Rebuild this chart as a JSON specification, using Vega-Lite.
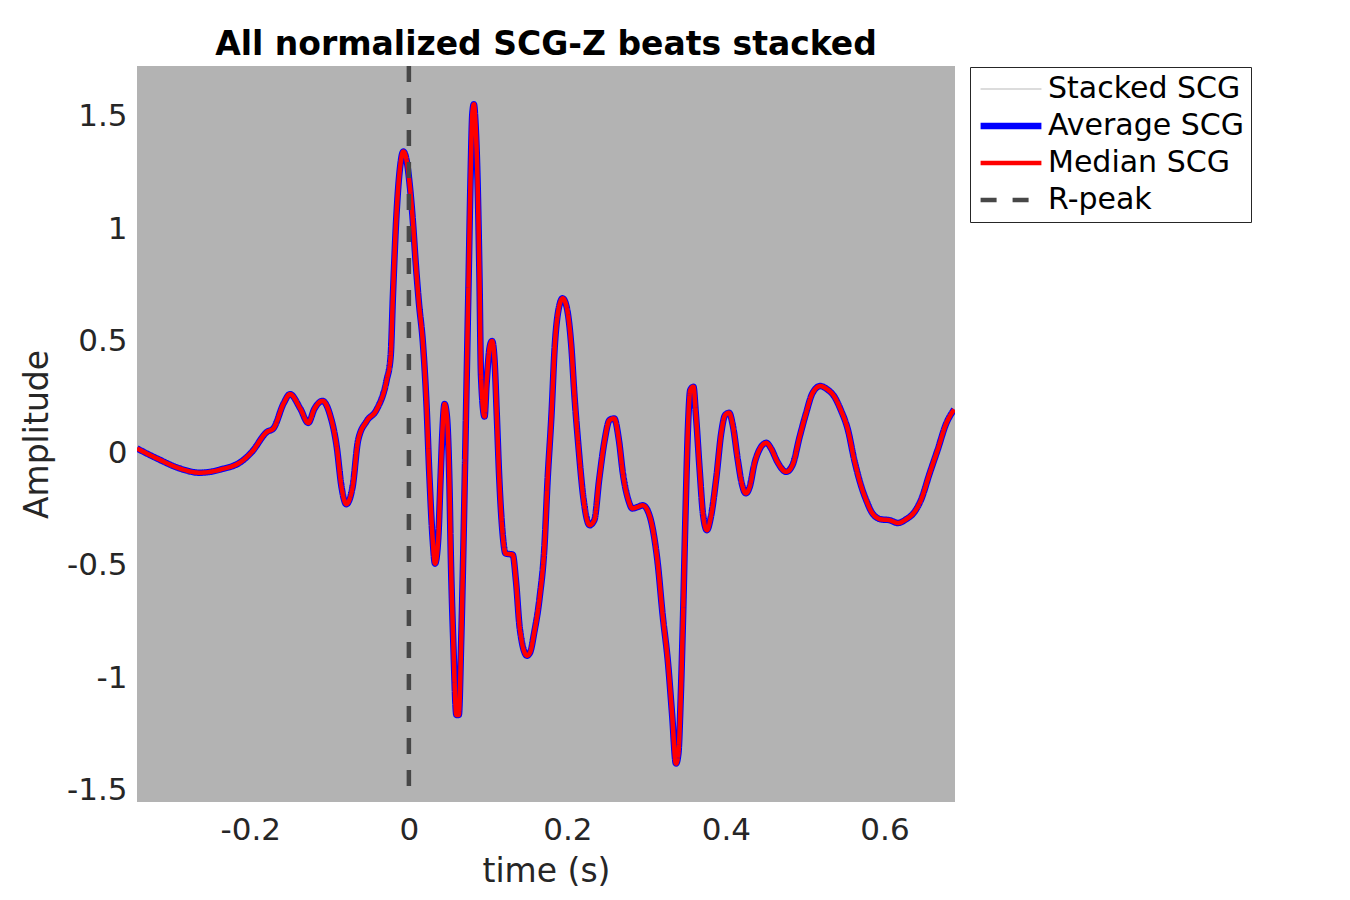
{
  "$schema": "https://vega.github.io/schema/vega-lite/v6.json",
  "width": 818,
  "height": 736,
  "autosize": {"type": "none"},
  "padding": {"left": 137, "top": 66, "right": 395, "bottom": 98},
  "background": "white",
  "title": {
    "text": "All normalized SCG-Z beats stacked",
    "font": "DejaVu Sans",
    "fontSize": 33,
    "fontWeight": "bold",
    "color": "#000000",
    "anchor": "middle",
    "offset": 2
  },
  "config": {
    "view": {"fill": "#b3b3b3", "stroke": null},
    "font": "DejaVu Sans",
    "axis": {
      "domain": false,
      "ticks": false,
      "grid": false,
      "labelFont": "DejaVu Sans",
      "labelFontSize": 31,
      "labelColor": "#262626",
      "titleFont": "DejaVu Sans",
      "titleFontSize": 33,
      "titleFontWeight": "normal",
      "titleColor": "#262626"
    },
    "legend": {
      "title": null,
      "orient": "none",
      "legendX": 833,
      "legendY": 1,
      "strokeColor": "#262626",
      "fillColor": "#ffffff",
      "padding": 7,
      "symbolType": "stroke",
      "symbolSize": 3700,
      "labelFont": "DejaVu Sans",
      "labelFontSize": 30,
      "labelColor": "#000000",
      "labelLimit": 0,
      "labelOffset": 3,
      "clipHeight": 30,
      "rowPadding": 7
    }
  },
  "data": {
    "values": [
      {"t": -0.343, "Average SCG": 0.023, "Median SCG": 0.023},
      {"t": -0.318, "Average SCG": -0.021, "Median SCG": -0.021},
      {"t": -0.289, "Average SCG": -0.066, "Median SCG": -0.066},
      {"t": -0.264, "Average SCG": -0.085, "Median SCG": -0.085},
      {"t": -0.238, "Average SCG": -0.071, "Median SCG": -0.071},
      {"t": -0.209, "Average SCG": -0.029, "Median SCG": -0.029},
      {"t": -0.198, "Average SCG": 0.008, "Median SCG": 0.008},
      {"t": -0.179, "Average SCG": 0.097, "Median SCG": 0.097},
      {"t": -0.171, "Average SCG": 0.112, "Median SCG": 0.112},
      {"t": -0.158, "Average SCG": 0.224, "Median SCG": 0.224},
      {"t": -0.150, "Average SCG": 0.265, "Median SCG": 0.265},
      {"t": -0.137, "Average SCG": 0.201, "Median SCG": 0.201},
      {"t": -0.127, "Average SCG": 0.137, "Median SCG": 0.137},
      {"t": -0.119, "Average SCG": 0.201, "Median SCG": 0.201},
      {"t": -0.109, "Average SCG": 0.235, "Median SCG": 0.235},
      {"t": -0.100, "Average SCG": 0.179, "Median SCG": 0.179},
      {"t": -0.091, "Average SCG": 0.030, "Median SCG": 0.030},
      {"t": -0.085, "Average SCG": -0.148, "Median SCG": -0.148},
      {"t": -0.079, "Average SCG": -0.225, "Median SCG": -0.225},
      {"t": -0.071, "Average SCG": -0.148, "Median SCG": -0.148},
      {"t": -0.064, "Average SCG": 0.060, "Median SCG": 0.060},
      {"t": -0.053, "Average SCG": 0.146, "Median SCG": 0.146},
      {"t": -0.041, "Average SCG": 0.194, "Median SCG": 0.194},
      {"t": -0.028, "Average SCG": 0.328, "Median SCG": 0.328},
      {"t": -0.023, "Average SCG": 0.432, "Median SCG": 0.432},
      {"t": -0.020, "Average SCG": 0.714, "Median SCG": 0.714},
      {"t": -0.016, "Average SCG": 1.041, "Median SCG": 1.041},
      {"t": -0.011, "Average SCG": 1.279, "Median SCG": 1.279},
      {"t": -0.007, "Average SCG": 1.346, "Median SCG": 1.346},
      {"t": -0.003, "Average SCG": 1.309, "Median SCG": 1.309},
      {"t": 0.001, "Average SCG": 1.200, "Median SCG": 1.200},
      {"t": 0.005, "Average SCG": 1.038, "Median SCG": 1.038},
      {"t": 0.0085, "Average SCG": 0.856, "Median SCG": 0.856},
      {"t": 0.0126, "Average SCG": 0.675, "Median SCG": 0.675},
      {"t": 0.0177, "Average SCG": 0.493, "Median SCG": 0.493},
      {"t": 0.022, "Average SCG": 0.238, "Median SCG": 0.238},
      {"t": 0.026, "Average SCG": -0.108, "Median SCG": -0.108},
      {"t": 0.030, "Average SCG": -0.381, "Median SCG": -0.381},
      {"t": 0.033, "Average SCG": -0.490, "Median SCG": -0.490},
      {"t": 0.037, "Average SCG": -0.381, "Median SCG": -0.381},
      {"t": 0.040, "Average SCG": -0.108, "Median SCG": -0.108},
      {"t": 0.042, "Average SCG": 0.074, "Median SCG": 0.074},
      {"t": 0.045, "Average SCG": 0.221, "Median SCG": 0.221},
      {"t": 0.048, "Average SCG": 0.165, "Median SCG": 0.165},
      {"t": 0.051, "Average SCG": -0.108, "Median SCG": -0.108},
      {"t": 0.053, "Average SCG": -0.470, "Median SCG": -0.470},
      {"t": 0.056, "Average SCG": -0.836, "Median SCG": -0.836},
      {"t": 0.060, "Average SCG": -1.164, "Median SCG": -1.164},
      {"t": 0.063, "Average SCG": -1.164, "Median SCG": -1.164},
      {"t": 0.066, "Average SCG": -0.836, "Median SCG": -0.836},
      {"t": 0.069, "Average SCG": -0.381, "Median SCG": -0.381},
      {"t": 0.072, "Average SCG": 0.165, "Median SCG": 0.165},
      {"t": 0.075, "Average SCG": 0.711, "Median SCG": 0.711},
      {"t": 0.078, "Average SCG": 1.257, "Median SCG": 1.257},
      {"t": 0.080, "Average SCG": 1.511, "Median SCG": 1.511},
      {"t": 0.082, "Average SCG": 1.557, "Median SCG": 1.557},
      {"t": 0.084, "Average SCG": 1.475, "Median SCG": 1.475},
      {"t": 0.087, "Average SCG": 1.166, "Median SCG": 1.166},
      {"t": 0.089, "Average SCG": 0.802, "Median SCG": 0.802},
      {"t": 0.091, "Average SCG": 0.347, "Median SCG": 0.347},
      {"t": 0.0955, "Average SCG": 0.165, "Median SCG": 0.165},
      {"t": 0.098, "Average SCG": 0.310, "Median SCG": 0.310},
      {"t": 0.102, "Average SCG": 0.475, "Median SCG": 0.475},
      {"t": 0.105, "Average SCG": 0.502, "Median SCG": 0.502},
      {"t": 0.108, "Average SCG": 0.420, "Median SCG": 0.420},
      {"t": 0.111, "Average SCG": 0.165, "Median SCG": 0.165},
      {"t": 0.114, "Average SCG": -0.108, "Median SCG": -0.108},
      {"t": 0.118, "Average SCG": -0.345, "Median SCG": -0.345},
      {"t": 0.122, "Average SCG": -0.445, "Median SCG": -0.445},
      {"t": 0.131, "Average SCG": -0.450, "Median SCG": -0.450},
      {"t": 0.135, "Average SCG": -0.563, "Median SCG": -0.563},
      {"t": 0.140, "Average SCG": -0.781, "Median SCG": -0.781},
      {"t": 0.149, "Average SCG": -0.900, "Median SCG": -0.900},
      {"t": 0.153, "Average SCG": -0.885, "Median SCG": -0.885},
      {"t": 0.158, "Average SCG": -0.800, "Median SCG": -0.800},
      {"t": 0.165, "Average SCG": -0.640, "Median SCG": -0.640},
      {"t": 0.171, "Average SCG": -0.415, "Median SCG": -0.415},
      {"t": 0.175, "Average SCG": -0.118, "Median SCG": -0.118},
      {"t": 0.180, "Average SCG": 0.179, "Median SCG": 0.179},
      {"t": 0.184, "Average SCG": 0.476, "Median SCG": 0.476},
      {"t": 0.188, "Average SCG": 0.625, "Median SCG": 0.625},
      {"t": 0.194, "Average SCG": 0.692, "Median SCG": 0.692},
      {"t": 0.199, "Average SCG": 0.654, "Median SCG": 0.654},
      {"t": 0.205, "Average SCG": 0.476, "Median SCG": 0.476},
      {"t": 0.209, "Average SCG": 0.253, "Median SCG": 0.253},
      {"t": 0.214, "Average SCG": 0.030, "Median SCG": 0.030},
      {"t": 0.220, "Average SCG": -0.193, "Median SCG": -0.193},
      {"t": 0.228, "Average SCG": -0.319, "Median SCG": -0.319},
      {"t": 0.234, "Average SCG": -0.296, "Median SCG": -0.296},
      {"t": 0.240, "Average SCG": -0.118, "Median SCG": -0.118},
      {"t": 0.247, "Average SCG": 0.060, "Median SCG": 0.060},
      {"t": 0.253, "Average SCG": 0.149, "Median SCG": 0.149},
      {"t": 0.259, "Average SCG": 0.157, "Median SCG": 0.157},
      {"t": 0.265, "Average SCG": 0.060, "Median SCG": 0.060},
      {"t": 0.270, "Average SCG": -0.088, "Median SCG": -0.088},
      {"t": 0.277, "Average SCG": -0.207, "Median SCG": -0.207},
      {"t": 0.282, "Average SCG": -0.244, "Median SCG": -0.244},
      {"t": 0.289, "Average SCG": -0.237, "Median SCG": -0.237},
      {"t": 0.295, "Average SCG": -0.230, "Median SCG": -0.230},
      {"t": 0.301, "Average SCG": -0.252, "Median SCG": -0.252},
      {"t": 0.308, "Average SCG": -0.341, "Median SCG": -0.341},
      {"t": 0.314, "Average SCG": -0.490, "Median SCG": -0.490},
      {"t": 0.320, "Average SCG": -0.713, "Median SCG": -0.713},
      {"t": 0.327, "Average SCG": -0.935, "Median SCG": -0.935},
      {"t": 0.332, "Average SCG": -1.158, "Median SCG": -1.158},
      {"t": 0.337, "Average SCG": -1.381, "Median SCG": -1.381},
      {"t": 0.340, "Average SCG": -1.337, "Median SCG": -1.337},
      {"t": 0.343, "Average SCG": -1.084, "Median SCG": -1.084},
      {"t": 0.346, "Average SCG": -0.713, "Median SCG": -0.713},
      {"t": 0.349, "Average SCG": -0.267, "Median SCG": -0.267},
      {"t": 0.352, "Average SCG": 0.105, "Median SCG": 0.105},
      {"t": 0.355, "Average SCG": 0.283, "Median SCG": 0.283},
      {"t": 0.359, "Average SCG": 0.298, "Median SCG": 0.298},
      {"t": 0.362, "Average SCG": 0.179, "Median SCG": 0.179},
      {"t": 0.367, "Average SCG": -0.080, "Median SCG": -0.080},
      {"t": 0.371, "Average SCG": -0.267, "Median SCG": -0.267},
      {"t": 0.376, "Average SCG": -0.341, "Median SCG": -0.341},
      {"t": 0.381, "Average SCG": -0.282, "Median SCG": -0.282},
      {"t": 0.388, "Average SCG": -0.103, "Median SCG": -0.103},
      {"t": 0.394, "Average SCG": 0.090, "Median SCG": 0.090},
      {"t": 0.399, "Average SCG": 0.172, "Median SCG": 0.172},
      {"t": 0.404, "Average SCG": 0.182, "Median SCG": 0.182},
      {"t": 0.409, "Average SCG": 0.120, "Median SCG": 0.120},
      {"t": 0.415, "Average SCG": -0.029, "Median SCG": -0.029},
      {"t": 0.420, "Average SCG": -0.133, "Median SCG": -0.133},
      {"t": 0.425, "Average SCG": -0.177, "Median SCG": -0.177},
      {"t": 0.430, "Average SCG": -0.148, "Median SCG": -0.148},
      {"t": 0.436, "Average SCG": -0.044, "Median SCG": -0.044},
      {"t": 0.442, "Average SCG": 0.016, "Median SCG": 0.016},
      {"t": 0.451, "Average SCG": 0.048, "Median SCG": 0.048},
      {"t": 0.457, "Average SCG": 0.023, "Median SCG": 0.023},
      {"t": 0.465, "Average SCG": -0.037, "Median SCG": -0.037},
      {"t": 0.476, "Average SCG": -0.081, "Median SCG": -0.081},
      {"t": 0.484, "Average SCG": -0.051, "Median SCG": -0.051},
      {"t": 0.493, "Average SCG": 0.075, "Median SCG": 0.075},
      {"t": 0.501, "Average SCG": 0.179, "Median SCG": 0.179},
      {"t": 0.509, "Average SCG": 0.268, "Median SCG": 0.268},
      {"t": 0.519, "Average SCG": 0.301, "Median SCG": 0.301},
      {"t": 0.528, "Average SCG": 0.286, "Median SCG": 0.286},
      {"t": 0.537, "Average SCG": 0.253, "Median SCG": 0.253},
      {"t": 0.545, "Average SCG": 0.194, "Median SCG": 0.194},
      {"t": 0.554, "Average SCG": 0.105, "Median SCG": 0.105},
      {"t": 0.562, "Average SCG": -0.029, "Median SCG": -0.029},
      {"t": 0.571, "Average SCG": -0.148, "Median SCG": -0.148},
      {"t": 0.577, "Average SCG": -0.207, "Median SCG": -0.207},
      {"t": 0.585, "Average SCG": -0.267, "Median SCG": -0.267},
      {"t": 0.596, "Average SCG": -0.293, "Median SCG": -0.293},
      {"t": 0.606, "Average SCG": -0.296, "Median SCG": -0.296},
      {"t": 0.617, "Average SCG": -0.309, "Median SCG": -0.309},
      {"t": 0.627, "Average SCG": -0.293, "Median SCG": -0.293},
      {"t": 0.638, "Average SCG": -0.259, "Median SCG": -0.259},
      {"t": 0.646, "Average SCG": -0.207, "Median SCG": -0.207},
      {"t": 0.657, "Average SCG": -0.088, "Median SCG": -0.088},
      {"t": 0.667, "Average SCG": 0.016, "Median SCG": 0.016},
      {"t": 0.678, "Average SCG": 0.135, "Median SCG": 0.135},
      {"t": 0.688, "Average SCG": 0.197, "Median SCG": 0.197}
    ]
  },
  "encoding": {
    "x": {
      "field": "t",
      "type": "quantitative",
      "title": "time (s)",
      "scale": {"domain": [-0.343, 0.689], "nice": false, "zero": false},
      "axis": {
        "values": [-0.2, 0, 0.2, 0.4, 0.6],
        "labelExpr": "'' + datum.value",
        "labelPadding": 13,
        "titlePadding": 10
      }
    },
    "color": {
      "field": "series",
      "type": "nominal",
      "scale": {
        "domain": ["Stacked SCG", "Average SCG", "Median SCG", "R-peak"],
        "range": ["#b0b0b0", "#0000ff", "#ff0000", "#474747"]
      }
    },
    "strokeWidth": {
      "field": "series",
      "type": "nominal",
      "scale": {
        "type": "ordinal",
        "domain": ["Stacked SCG", "Average SCG", "Median SCG", "R-peak"],
        "range": [1, 6.5, 4.5, 4.5]
      }
    },
    "strokeDash": {
      "field": "series",
      "type": "nominal",
      "scale": {
        "domain": ["Stacked SCG", "Average SCG", "Median SCG", "R-peak"],
        "range": [[1, 0], [1, 0], [1, 0], [16, 16]]
      }
    }
  },
  "layer": [
    {
      "transform": [
        {"fold": ["Average SCG", "Median SCG"], "as": ["series", "amp"]},
        {"filter": "datum.series == 'Average SCG'"}
      ],
      "mark": {"type": "line", "interpolate": "monotone", "clip": true},
      "encoding": {
        "y": {
          "field": "amp",
          "type": "quantitative",
          "title": "Amplitude",
          "scale": {"domain": [-1.552, 1.727], "nice": false, "zero": false},
          "axis": {
            "values": [-1.5, -1, -0.5, 0, 0.5, 1, 1.5],
            "labelExpr": "'' + datum.value",
            "labelPadding": 10,
            "titlePadding": 12
          }
        }
      }
    },
    {
      "transform": [
        {"fold": ["Average SCG", "Median SCG"], "as": ["series", "amp"]},
        {"filter": "datum.series == 'Median SCG'"}
      ],
      "mark": {"type": "line", "interpolate": "monotone", "clip": true},
      "encoding": {
        "y": {"field": "amp", "type": "quantitative"}
      }
    },
    {
      "data": {"values": [{"t": 0, "series": "R-peak"}]},
      "mark": {"type": "rule"},
      "encoding": {}
    }
  ]
}
